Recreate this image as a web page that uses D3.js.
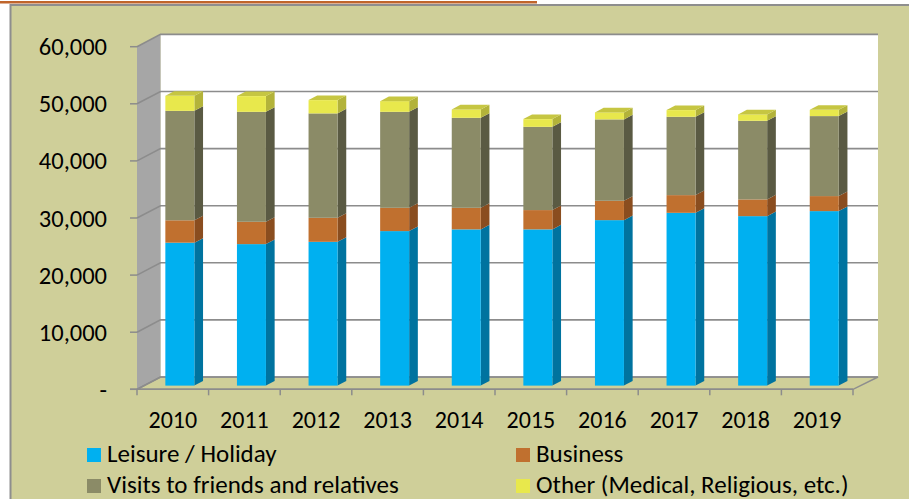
<!DOCTYPE html>
<html><head><meta charset="utf-8">
<script src="https://cdn.jsdelivr.net/npm/d3@7"></script>
<style>
html,body{margin:0;padding:0;background:#fff;}
svg{display:block;font-family:Carlito,Lato,"Open Sans",sans-serif;}
</style></head>
<body><svg id="chart" width="909" height="499"></svg>
<script>
const years = ["2010","2011","2012","2013","2014","2015","2016","2017","2018","2019"];
const leisure = [25030,24780,25180,27060,27360,27360,28980,30260,29680,30560];
const business = [3920,3910,4210,4080,3780,3380,3390,3100,2930,2630];
const visits = [19170,19260,18280,16810,15760,14580,14250,13720,13770,14010];
const other = [2630,2750,2330,1870,1470,1350,1230,1170,1120,1100];
const seriesNames = ["Leisure / Holiday","Business","Visits to friends and relatives","Other (Medical, Religious, etc.)"];
const yTicks = [0,10000,20000,30000,40000,50000,60000];

const colors = [
  {front:"#00B0F0", side:"#00739F", top:"#0096CC"},
  {front:"#C0702F", side:"#8A4D1F", top:"#A85F27"},
  {front:"#8B8B67", side:"#5A5A43", top:"#75755A"},
  {front:"#E8E84C", side:"#B3B33A", top:"#C6C642"}
];
const seriesData = [leisure,business,visits,other];

const svg = d3.select("#chart");
// page decorations
svg.append("rect").attr("x",0).attr("y",1).attr("width",537).attr("height",2.5).attr("fill","#C0652B");
svg.append("rect").attr("x",10.5).attr("y",5).attr("width",920).attr("height",520)
  .attr("fill","#CFCF99").attr("stroke","#8E8E8E").attr("stroke-width",2);

const x0 = 137, x1 = 853;
const x = d3.scaleBand().domain(years).range([x0,x1]).paddingInner(0).paddingOuter(0);
const y = d3.scaleLinear().domain([0,60000]).range([389.3,46.7]);
const DX = 23.5, DY = -12.3; // full depth
const g = svg.append("g");

// back wall
g.append("rect").attr("x",x0+DX).attr("y",y(60000)+DY).attr("width",878-(x0+DX)).attr("height",y(0)-y(60000))
  .attr("fill","#FFFFFF");
// left wall
g.append("path").attr("d",`M${x0},${y(0)}L${x0},${y(60000)}L${x0+DX},${y(60000)+DY}L${x0+DX},${y(0)+DY}Z`).attr("fill","#A6A6A6");
// floor
g.append("path").attr("d",`M${x0},${y(0)}L${x1},${y(0)}L${x1+DX+1.5},${y(0)+DY}L${x0+DX},${y(0)+DY}Z`)
  .attr("fill","#CFCF99").attr("stroke","#8E8E8E").attr("stroke-width",1.5);
// gridlines
yTicks.forEach(t=>{
  g.append("path").attr("d",`M${x0},${y(t)}L${x0+DX},${y(t)+DY}L${t===0?x1+DX+1.5:878},${y(t)+DY}`)
    .attr("fill","none").attr("stroke","#8C8C8C").attr("stroke-width",1.6);
  g.append("line").attr("x1",x0-7).attr("x2",x0).attr("y1",y(t)).attr("y2",y(t)).attr("stroke","#8C8C8C").attr("stroke-width",1.5);
  g.append("text").attr("x",107).attr("y",y(t)).attr("dy","0.35em").attr("text-anchor","end")
    .attr("font-size",24.5).attr("fill","#000").text(t===0?"-":d3.format(",")(t));
});
// front axis line and ticks
g.append("line").attr("x1",x0-7).attr("x2",x1).attr("y1",y(0)).attr("y2",y(0)).attr("stroke","#8C8C8C").attr("stroke-width",1.5);
[...years.map(d=>x(d)), x1].forEach(px=>{
  g.append("line").attr("x1",px).attr("x2",px).attr("y1",y(0)).attr("y2",y(0)+6).attr("stroke","#8C8C8C").attr("stroke-width",1.5);
});
years.forEach(yr=>{
  g.append("text").attr("x",x(yr)+x.bandwidth()/2).attr("y",428).attr("text-anchor","middle")
    .attr("font-size",24).attr("fill","#000").text(yr);
});

// bars
const fD = 0.3, bD = 0.37; // front depth fraction, bar depth fraction
const offX = DX*fD, offY = DY*fD, bx = DX*bD, by = DY*bD;
const barW = 29;
years.forEach((yr,i)=>{
  const cx = x(yr)+x.bandwidth()/2 + offX;
  const left = cx - barW/2, right = cx + barW/2;
  let cum = 0;
  seriesData.forEach((s,k)=>{
    const v0 = cum, v1 = cum + s[i]; cum = v1;
    const yb = y(v0)+offY, yt = y(v1)+offY;
    const c = colors[k];
    g.append("path").attr("d",`M${right},${yt}L${right+bx},${yt+by}L${right+bx},${yb+by}L${right},${yb}Z`).attr("fill",c.side);
    g.append("rect").attr("x",left).attr("y",yt).attr("width",barW).attr("height",yb-yt).attr("fill",c.front);
    if(k===seriesData.length-1){
      g.append("path").attr("d",`M${left},${yt}L${left+bx},${yt+by}L${right+bx},${yt+by}L${right},${yt}Z`).attr("fill",c.top);
    }
  });
});

// legend
const legPos = [[87,448],[516,448],[87,479],[516,479]];
seriesNames.forEach((n,k)=>{
  const [lx,ly] = legPos[k];
  g.append("rect").attr("x",lx).attr("y",ly).attr("width",14).attr("height",14).attr("fill",colors[k].front);
  g.append("text").attr("x",lx+20).attr("y",ly+13.5).attr("font-size",25).attr("fill","#000").text(n);
});
</script></body></html>
